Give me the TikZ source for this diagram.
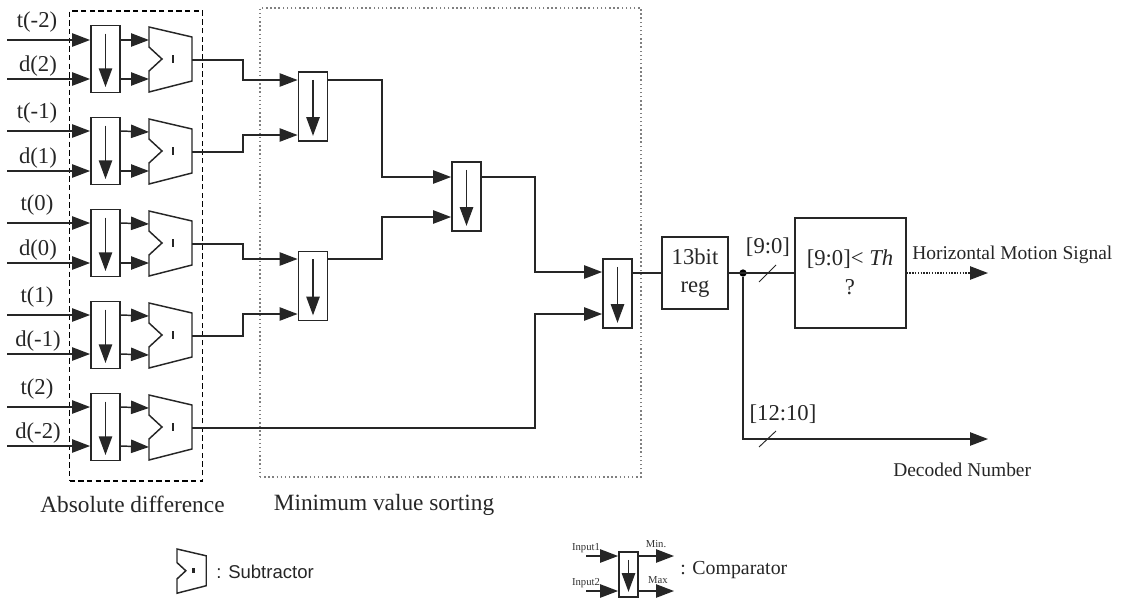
\documentclass[tikz,border=0pt]{standalone}
\usepackage{fontspec}
\setmainfont{Liberation Serif}
\setsansfont{Liberation Sans}
\usetikzlibrary{arrows.meta}
\tikzset{
    sig/.style={line width=1.1pt, black!85, -{Triangle[length=13.5pt,width=10pt]}},
    wire/.style={line width=1.1pt, black!85},
    cmp/.style={draw=black!85, line width=1.1pt, fill=white, inner sep=0pt, minimum width=22pt, minimum height=50pt,
        path picture={\draw[line width=1.1pt, -{Triangle[length=14pt,width=10pt]}] ([yshift=-6pt]path picture bounding box.north) -- ([yshift=4pt]path picture bounding box.south);}},
    lab/.style={inner sep=0pt, font=\fontsize{17}{19}\selectfont, text=black!85},
    tiny/.style={inner sep=0pt, font=\fontsize{8}{9}\selectfont, text=black!80},
    pics/subtr/.style={code={
        \draw[line width=1.1pt, black!85, fill=white] (0,0) -- (43,10) -- (43,54) -- (0,65) -- (0,44) -- (13,32) -- (0,20) -- cycle;
        \draw[line width=1.8pt, black!85] (24,28) -- (24,36);
        \coordinate (-a) at (0,13);
        \coordinate (-b) at (0,52);
        \coordinate (-out) at (43,33);
    }}
}
\begin{document}
\begin{tikzpicture}[x=0.75pt, y=-0.75pt]
    \useasboundingbox (0,0) rectangle (1121,597);

    % Group frames
    \node[draw=black, dash pattern=on 4pt off 2.5pt, line width=0.9pt, inner sep=0pt, minimum width=99.75pt, minimum height=352.5pt] (absbox) at (136,246) {};
    \node[draw=black!50, dotted, line width=1.1pt, inner sep=0pt, minimum width=285.75pt, minimum height=351.75pt] (minbox) at (450.5,242.5) {};

    % Absolute difference: inputs
    \coordinate (t1) at (7,40);
    \coordinate (d1) at (7,79);
    \coordinate (t2) at (7,131);
    \coordinate (d2) at (7,171);
    \coordinate (t3) at (7,223);
    \coordinate (d3) at (7,263);
    \coordinate (t4) at (7,315);
    \coordinate (d4) at (7,354);
    \coordinate (t5) at (7,407);
    \coordinate (d5) at (7,446);
    \node[lab] (lt1) at (37,22) {t(-2)};
    \node[lab] (ld1) at (38,66) {d(2)};
    \node[lab] (lt2) at (37,113) {t(-1)};
    \node[lab] (ld2) at (38,158) {d(1)};
    \node[lab] (lt3) at (37,205) {t(0)};
    \node[lab] (ld3) at (38,250) {d(0)};
    \node[lab] (lt4) at (37,297) {t(1)};
    \node[lab] (ld4) at (38,341) {d(-1)};
    \node[lab] (lt5) at (37,389) {t(2)};
    \node[lab] (ld5) at (38,433) {d(-2)};

    % Absolute difference: comparators and subtractors
    \node[cmp] (c1) at (105.5,59) {};
    \node[cmp] (c2) at (105.5,151) {};
    \node[cmp] (c3) at (105.5,243) {};
    \node[cmp] (c4) at (105.5,335) {};
    \node[cmp] (c5) at (105.5,427) {};
    \pic (s1) at (149,27) {subtr};
    \pic (s2) at (149,119) {subtr};
    \pic (s3) at (149,211) {subtr};
    \pic (s4) at (149,303) {subtr};
    \pic (s5) at (149,395) {subtr};

    \draw[sig] (t1) -- (t1 -| c1.west);
    \draw[sig] (d1) -- (d1 -| c1.west);
    \draw[sig] (t2) -- (t2 -| c2.west);
    \draw[sig] (d2) -- (d2 -| c2.west);
    \draw[sig] (t3) -- (t3 -| c3.west);
    \draw[sig] (d3) -- (d3 -| c3.west);
    \draw[sig] (t4) -- (t4 -| c4.west);
    \draw[sig] (d4) -- (d4 -| c4.west);
    \draw[sig] (t5) -- (t5 -| c5.west);
    \draw[sig] (d5) -- (d5 -| c5.west);

    \draw[sig] (c1.east |- t1) -- (s1-a);
    \draw[sig] (c1.east |- d1) -- (s1-b);
    \draw[sig] (c2.east |- t2) -- (s2-a);
    \draw[sig] (c2.east |- d2) -- (s2-b);
    \draw[sig] (c3.east |- t3) -- (s3-a);
    \draw[sig] (c3.east |- d3) -- (s3-b);
    \draw[sig] (c4.east |- t4) -- (s4-a);
    \draw[sig] (c4.east |- d4) -- (s4-b);
    \draw[sig] (c5.east |- t5) -- (s5-a);
    \draw[sig] (c5.east |- d5) -- (s5-b);

    % Minimum value sorting
    \node[cmp, minimum height=52pt] (m1) at (313,106.5) {};
    \node[cmp, minimum height=52pt] (m2) at (313,286) {};
    \node[cmp, minimum height=52pt] (m3) at (466.5,196.5) {};
    \node[cmp, minimum height=52pt] (m4) at (617.5,293.5) {};

    \coordinate (i1) at (243,80);
    \coordinate (i2) at (243,135);
    \coordinate (i3) at (243,259);
    \coordinate (i4) at (243,314);
    \coordinate (j1) at (382,177);
    \coordinate (j2) at (382,217);
    \coordinate (k1) at (535,272);
    \coordinate (k2) at (535,314);

    \draw[sig] (s1-out) -| (i1) -- (i1 -| m1.west);
    \draw[sig] (s2-out) -| (i2) -- (i2 -| m1.west);
    \draw[sig] (s3-out) -| (i3) -- (i3 -| m2.west);
    \draw[sig] (s4-out) -| (i4) -- (i4 -| m2.west);
    \draw[sig] (m1.east |- i1) -| (j1) -- (j1 -| m3.west);
    \draw[sig] (m2.east |- i3) -| (j2) -- (j2 -| m3.west);
    \draw[sig] (m3.east |- j1) -| (k1) -- (k1 -| m4.west);
    \draw[sig] (s5-out) -| (k2) -- (k2 -| m4.west);

    % Register and threshold test
    \node[draw=black!85, line width=1.1pt, inner sep=0pt, minimum width=49.5pt, minimum height=54pt, align=center, font=\fontsize{17}{21}\selectfont, text=black!85] (reg) at (695,273) {13bit\\reg};
    \node[draw=black!85, line width=1.1pt, inner sep=0pt, minimum width=83pt, minimum height=82.5pt] (th) at (850.5,273) {};
    \node[lab] (thtxt) at (850,259) {[9:0]< \textit{Th}};
    \node[lab] (thq) at (850,287) {?};
    \node[circle, fill=black, inner sep=0pt, minimum size=5.5pt] (dot) at (743,273) {};
    \coordinate (motend) at (988,273);
    \coordinate (decend) at (988,439);

    \draw[wire] (m4.east |- reg.west) -- (reg.west);
    \draw[wire] (reg.east) -- (th.west);
    \draw[sig, densely dotted] (th.east) -- (motend);
    \draw[sig] (dot) |- (decend);

    \draw[line width=0.7pt, black!85] (759,282) -- (776,265);
    \draw[line width=0.7pt, black!85] (759,447) -- (776,431);

    \node[lab] (l90) at (768,247) {[9:0]};
    \node[lab] (l1210) at (783,414) {[12:10]};
    \node[inner sep=0pt, anchor=west, font=\fontsize{14.6}{16}\selectfont, text=black!85] (lmot) at (912,255) {Horizontal Motion Signal};
    \node[inner sep=0pt, anchor=west, font=\fontsize{14.6}{16}\selectfont, text=black!85] (ldec) at (893,470) {Decoded Number};
    \node[lab, font=\fontsize{17.5}{19}\selectfont] (labs) at (132.5,504) {Absolute difference};
    \node[lab, font=\fontsize{17.5}{19}\selectfont] (lmin) at (384,505) {Minimum value sorting};

    % Legend
    \pic[scale=0.68] (sl) at (177,549) {subtr};
    \node[inner sep=0pt, anchor=west, font=\sffamily\fontsize{13.9}{16}\selectfont, text=black!85] (lsub) at (216,572) {: Subtractor};

    \node[cmp, minimum width=14.5pt, minimum height=34pt] (cl) at (628.5,574.5) {};
    \coordinate (a1) at (586,556);
    \coordinate (a2) at (586,591);
    \coordinate (b1) at (674,556);
    \coordinate (b2) at (674,591);
    \draw[sig] (a1) -- (a1 -| cl.west);
    \draw[sig] (a2) -- (a2 -| cl.west);
    \draw[sig] (b1 -| cl.east) -- (b1);
    \draw[sig] (b2 -| cl.east) -- (b2);
    \node[tiny] (li1) at (586,548) {Input1};
    \node[tiny] (li2) at (586,583) {Input2};
    \node[tiny] (lo1) at (656,544) {Min.};
    \node[tiny] (lo2) at (658,580) {Max};
    \node[inner sep=0pt, anchor=west, font=\fontsize{14.9}{16}\selectfont, text=black!85] (lcmp) at (680,570) {: Comparator};
\end{tikzpicture}
\end{document}
